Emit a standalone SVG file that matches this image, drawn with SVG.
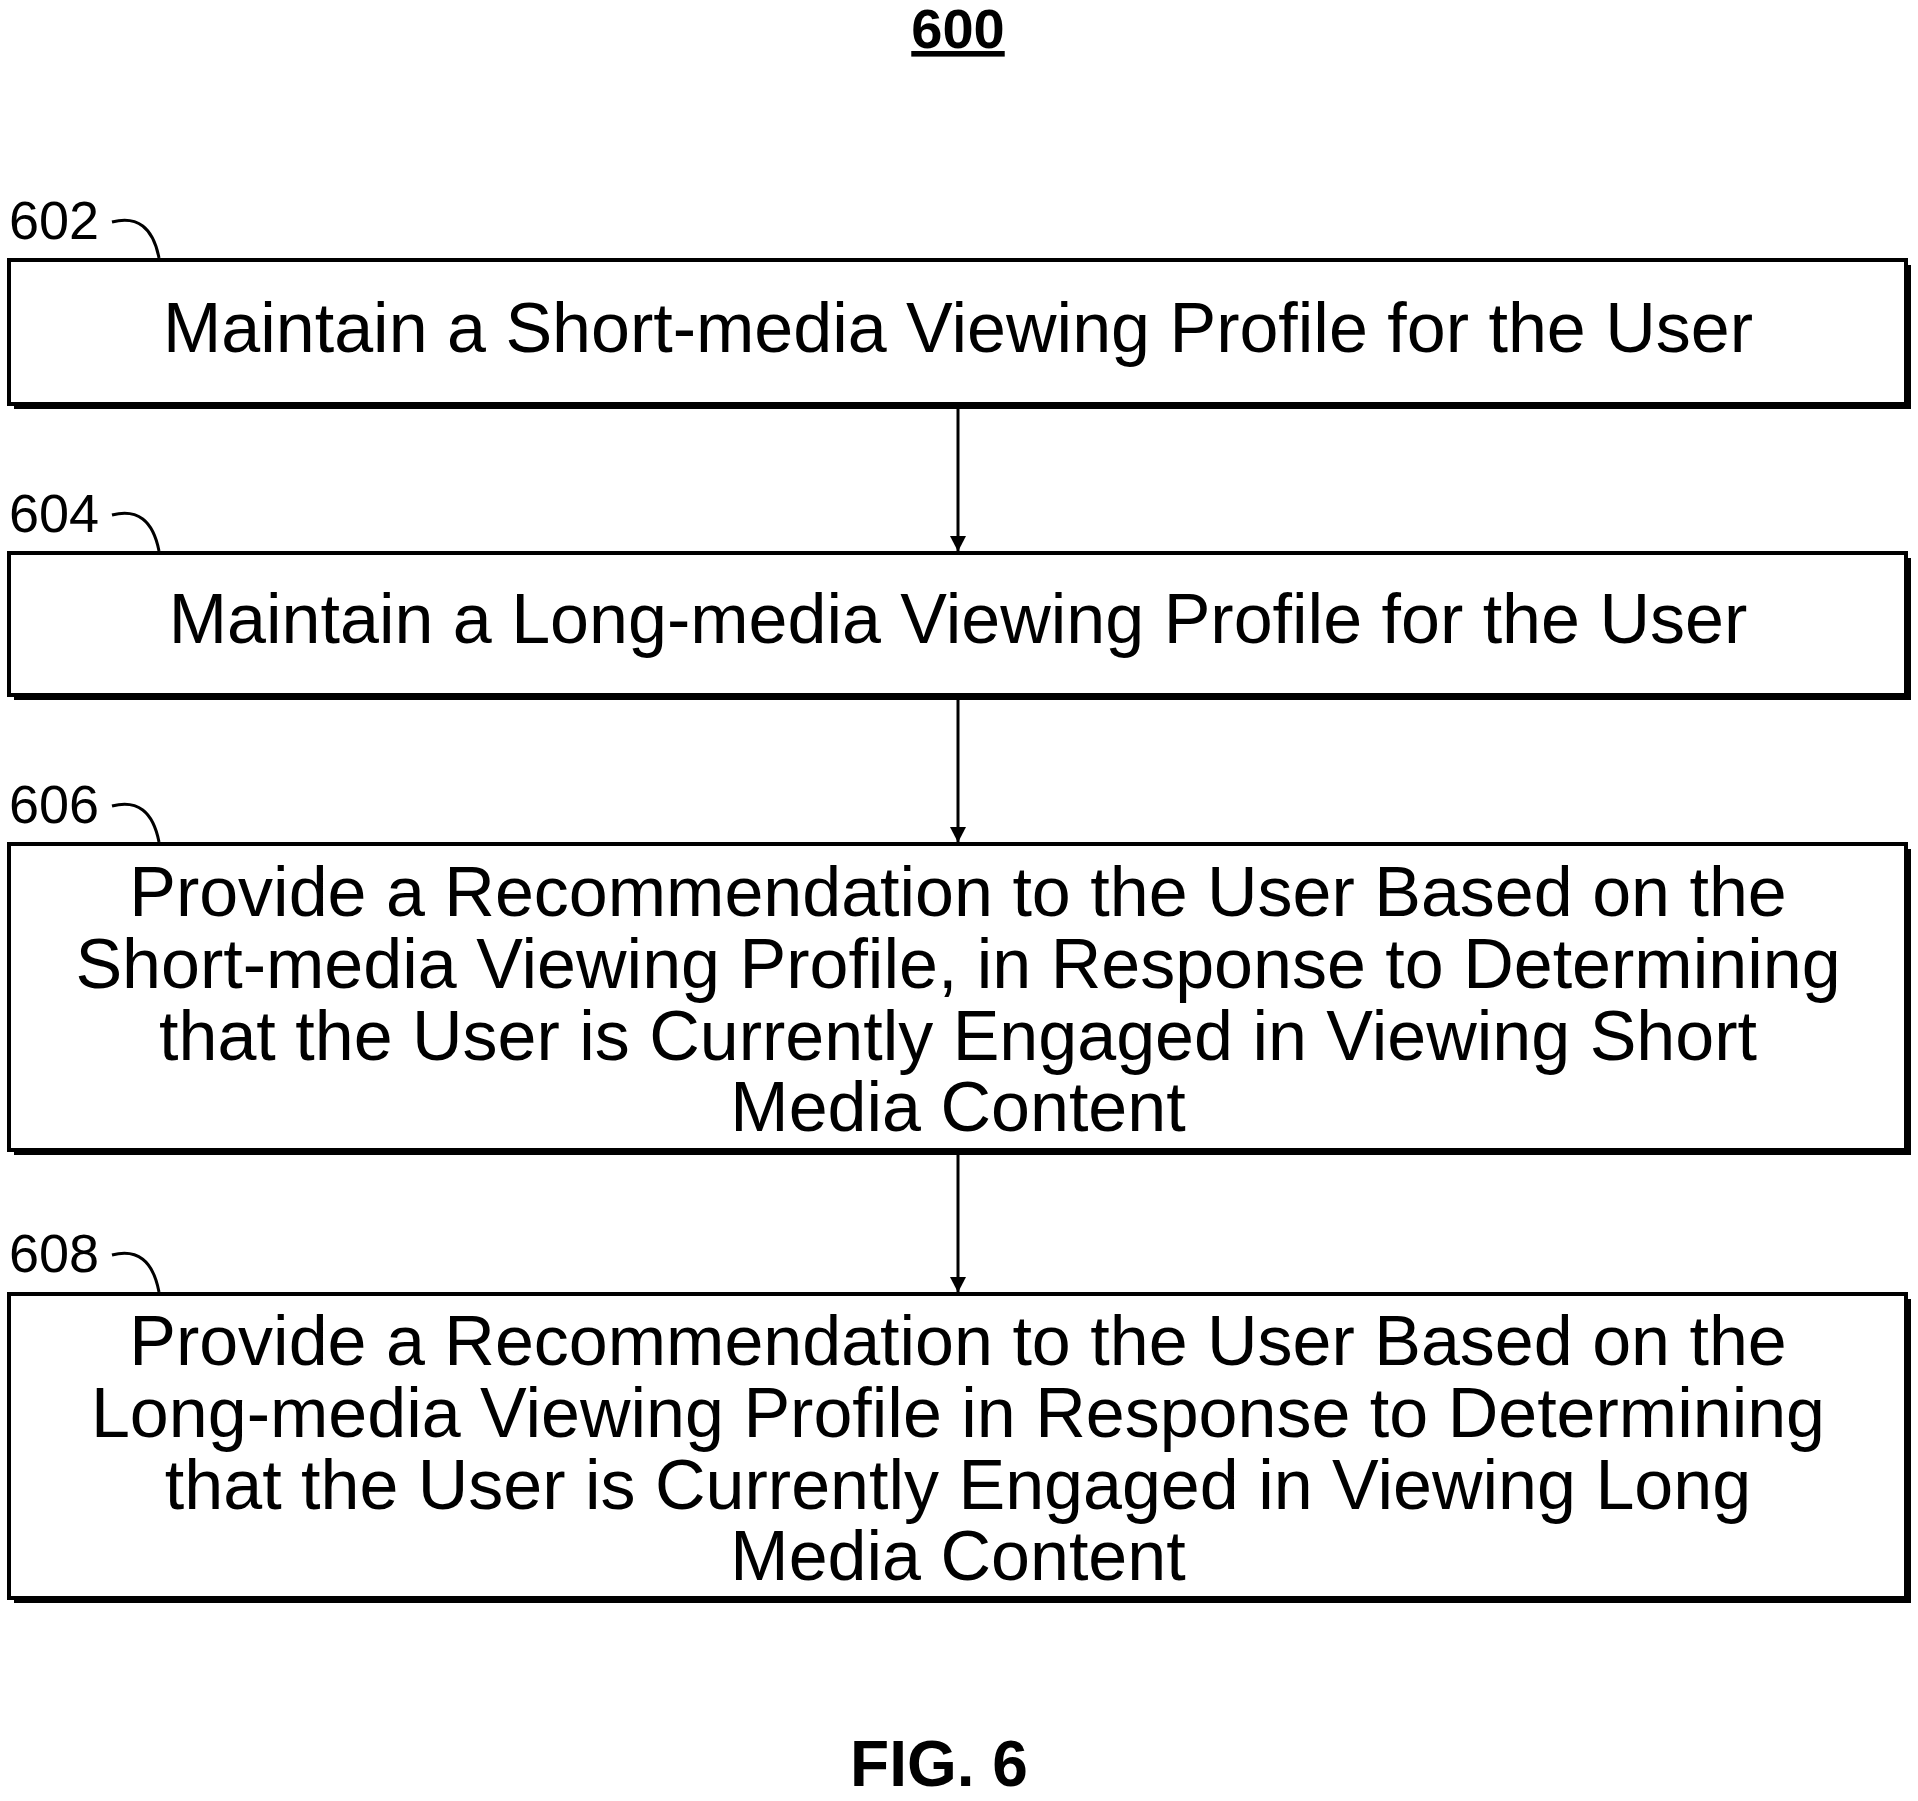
<svg xmlns="http://www.w3.org/2000/svg" width="1918" height="1801" viewBox="0 0 1918 1801">
<style>
text{font-family:"Liberation Sans",Arial,sans-serif;fill:#000}
.t{font-size:70px;text-anchor:middle}
.l{font-size:54px}
.b{fill:#fff;stroke:#000;stroke-width:4}
.s{fill:#000}
.c{fill:none;stroke:#000;stroke-width:3}
</style>
<defs><marker id="a" markerWidth="16" markerHeight="26" refX="15" refY="8" orient="auto" markerUnits="userSpaceOnUse"><path d="M0,0 L26,8 L0,16 Z" transform="scale(0.6,1)"/></marker></defs>
<rect width="1918" height="1801" fill="#fff"/>
<text x="958" y="48" font-size="56" font-weight="bold" text-anchor="middle" text-decoration="underline">600</text>
<g id="n602"><rect class="s" x="14" y="265" width="1897" height="144"/><rect class="b" x="9" y="260" width="1897" height="144"/>
<text class="t" x="958" y="352">Maintain a Short-media Viewing Profile for the User</text>
<text class="l" x="9" y="239">602</text><path class="c" d="M112,222 Q150,212 159,258"/></g>
<g id="n604"><rect class="s" x="14" y="558" width="1897" height="142"/><rect class="b" x="9" y="553" width="1897" height="142"/>
<text class="t" x="958" y="643">Maintain a Long-media Viewing Profile for the User</text>
<text class="l" x="9" y="532">604</text><path class="c" d="M112,515 Q150,505 159,551"/></g>
<g id="n606"><rect class="s" x="14" y="849" width="1897" height="306"/><rect class="b" x="9" y="844" width="1897" height="306"/>
<text class="t" x="958" y="916">Provide a Recommendation to the User Based on the</text>
<text class="t" x="958" y="988">Short-media Viewing Profile, in Response to Determining</text>
<text class="t" x="958" y="1060">that the User is Currently Engaged in Viewing Short</text>
<text class="t" x="958" y="1131">Media Content</text>
<text class="l" x="9" y="823">606</text><path class="c" d="M112,806 Q150,796 159,842"/></g>
<g id="n608"><rect class="s" x="14" y="1299" width="1897" height="304"/><rect class="b" x="9" y="1294" width="1897" height="304"/>
<text class="t" x="958" y="1365">Provide a Recommendation to the User Based on the</text>
<text class="t" x="958" y="1437">Long-media Viewing Profile in Response to Determining</text>
<text class="t" x="958" y="1509">that the User is Currently Engaged in Viewing Long</text>
<text class="t" x="958" y="1580">Media Content</text>
<text class="l" x="9" y="1272">608</text><path class="c" d="M112,1255 Q150,1245 159,1292"/></g>
<g id="connectors" stroke="#000" stroke-width="3">
<line x1="958" y1="409" x2="958" y2="551" marker-end="url(#a)"/>
<line x1="958" y1="700" x2="958" y2="842" marker-end="url(#a)"/>
<line x1="958" y1="1155" x2="958" y2="1292" marker-end="url(#a)"/>
</g>
<text x="939" y="1786" font-size="64" font-weight="bold" text-anchor="middle">FIG. 6</text>
</svg>
